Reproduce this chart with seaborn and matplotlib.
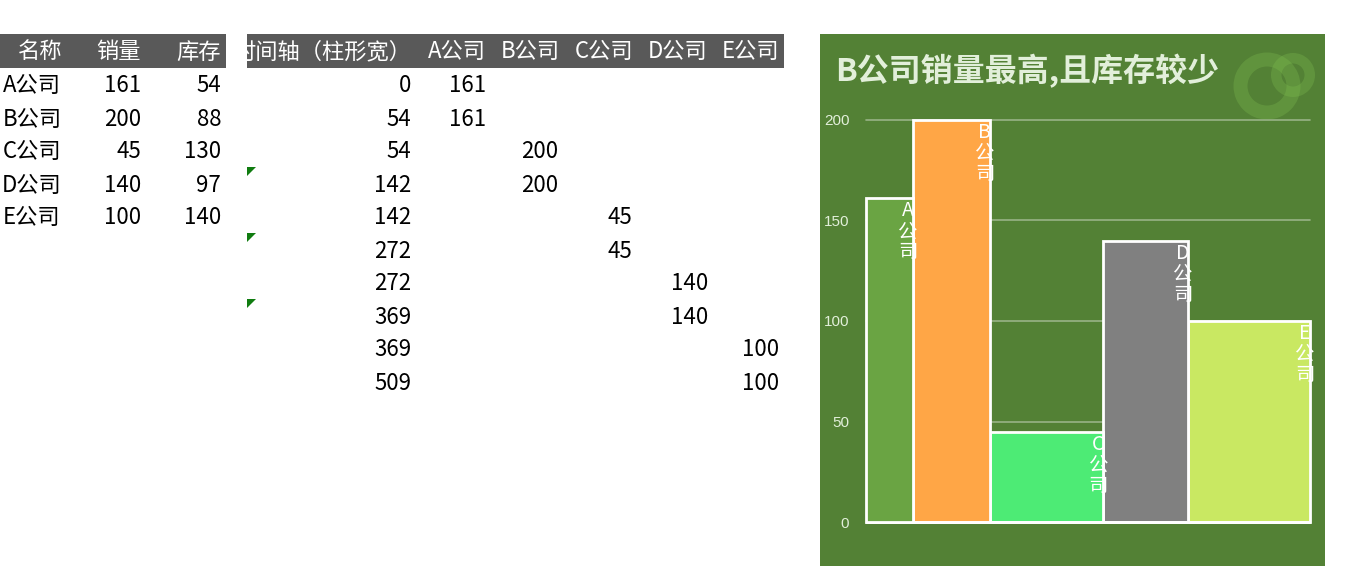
import numpy as np
import pandas as pd
import matplotlib
matplotlib.use("Agg")
import matplotlib.pyplot as plt
from matplotlib.patches import Rectangle, Polygon, Wedge
from matplotlib import font_manager
import seaborn as sns

# ---------------- data ----------------
names = ['A公司', 'B公司', 'C公司', 'D公司', 'E公司']
sales = [161, 200, 45, 140, 100]
stock = [54, 88, 130, 97, 140]
table1_headers = ['名称', '销量', '库存']
table2_first_header = '时间轴（柱形宽）'
flagged_rows = [3, 5, 7]
yticks = [0, 50, 100, 150, 200]
title = 'B公司销量最高,且库存较少'
bar_colors = ['#6AA443', '#FFA646', '#4DEB75', '#808080', '#C9E862']

sns.set_theme(style='white')
plt.rcParams['font.family'] = ['Noto Sans CJK SC', 'DejaVu Sans']

available = {f.name for f in font_manager.fontManager.ttflist}
narrow = 'Liberation Sans Narrow' if 'Liberation Sans Narrow' in available else 'Liberation Sans'

W, H = 1360, 579
fig = plt.figure(figsize=(W / 100, H / 100), dpi=100)
fig.patch.set_facecolor('white')

bg = fig.add_axes([0, 0, 1, 1])
bg.set_xlim(0, W)
bg.set_ylim(H, 0)
bg.axis('off')

HDR = '#595959'
fs = 16
row_y = [86 + 33 * i for i in range(10)]
hy = 52

# ---------- table 1 ----------
bg.add_patch(Rectangle((0, 34), 226, 34, color=HDR, lw=0))
bg.text(40, hy, table1_headers[0], ha='center', va='center', color='white', fontsize=fs)
bg.text(141, hy, table1_headers[1], ha='right', va='center', color='white', fontsize=fs)
bg.text(221, hy, table1_headers[2], ha='right', va='center', color='white', fontsize=fs)
for i, (n, s, k) in enumerate(zip(names, sales, stock)):
    y = row_y[i]
    bg.text(32, y, n, ha='center', va='center', color='black', fontsize=fs)
    bg.text(141, y, str(s), ha='right', va='center', color='black', fontsize=fs)
    bg.text(221, y, str(k), ha='right', va='center', color='black', fontsize=fs)

# ---------- table 2 ----------
hdr2 = Rectangle((247, 34), 537, 34, color=HDR, lw=0)
bg.add_patch(hdr2)
t = bg.text(411, hy, table2_first_header, ha='right', va='center', color='white', fontsize=fs)
t.set_clip_path(hdr2)
col_center = [457, 530, 604, 678, 751]
col_right = [486, 558, 632, 708, 779]
for j, n in enumerate(names):
    bg.text(col_center[j], hy, n, ha='center', va='center', color='white', fontsize=fs)

edges = [0] + [int(v) for v in np.cumsum(stock)]
timeline = []
for j in range(len(names)):
    timeline += [edges[j], edges[j + 1]]
for i, tv in enumerate(timeline):
    y = row_y[i]
    j = i // 2
    bg.text(411, y, str(int(tv)), ha='right', va='center', color='black', fontsize=fs)
    bg.text(col_right[j], y, str(sales[j]), ha='right', va='center', color='black', fontsize=fs)
for r in flagged_rows:
    top = 167 + 33 * (r - 3)
    bg.add_patch(Polygon([(247, top), (256, top), (247, top + 9)], closed=True,
                         color='#107C10', lw=0))

# ---------- chart panel ----------
bg.add_patch(Rectangle((820, 34), 505, 532, color='#538135', lw=0))
ring_col = '#7FBF50'
bg.add_patch(Wedge((1267, 86), 33.5, 0, 360, width=14, color=ring_col, alpha=0.3, lw=0))
bg.add_patch(Wedge((1293, 75), 22, 0, 360, width=10.5, color=ring_col, alpha=0.3, lw=0))
bg.text(835, 71, title, ha='left', va='center', color='#E2EFDA', fontsize=23,
        fontweight='bold')

ax = fig.add_axes([866 / W, (H - 522) / H, 444 / W, 402 / H])
ax.set_facecolor('none')

mids = [edges[j] + stock[j] / 2 for j in range(len(names))]
df = pd.DataFrame({'name': names, 'sales': sales, 'mid': mids})
sns.histplot(data=df, x='mid', weights='sales', bins=edges, hue='name',
             palette=dict(zip(names, bar_colors)), multiple='layer', alpha=1,
             edgecolor='white', linewidth=2, legend=False, ax=ax, zorder=3)
for p in ax.patches:
    p.set_clip_on(False)
    p.set_alpha(1)

ax.set_xlim(0, edges[-1])
ax.set_ylim(0, 200)
ax.set_yticks(yticks)
ax.set_yticklabels([str(v) for v in yticks], color='#E2EFDA', fontsize=11,
                   family=narrow)
ax.tick_params(axis='y', length=0, pad=12)
ax.set_xticks([])
ax.set_xlabel('')
ax.set_ylabel('')
for s in ax.spines.values():
    s.set_visible(False)
for v in yticks[1:]:
    ax.axhline(v, color='#98B386', lw=1.2, zorder=1, clip_on=False)

for j, n in enumerate(names):
    ax.annotate('\n'.join(n), xy=(edges[j + 1], sales[j]), xytext=(-3.6, -1.5),
                textcoords='offset points', ha='center', va='top', color='white',
                fontsize=14, linespacing=1.0, zorder=5, annotation_clip=False)

fig.savefig('out.png', dpi=100, facecolor='white')
